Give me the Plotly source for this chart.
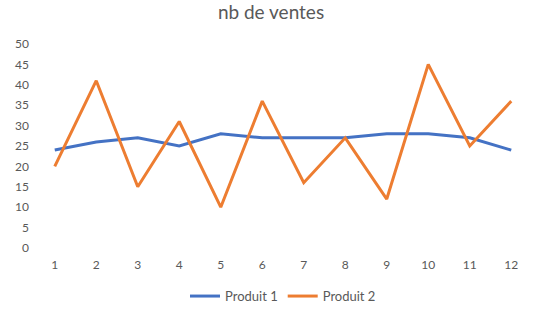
import plotly.graph_objects as go

months = [1, 2, 3, 4, 5, 6, 7, 8, 9, 10, 11, 12]
produit1 = [24, 26, 27, 25, 28, 27, 27, 27, 28, 28, 27, 24]
produit2 = [20, 41, 15, 31, 10, 36, 16, 27, 12, 45, 25, 36]
y_ticks = [0, 5, 10, 15, 20, 25, 30, 35, 40, 45, 50]

fig = go.Figure()
fig.add_trace(go.Scatter(x=months, y=produit1, mode="lines", name="Produit 1",
                         line=dict(color="#4472C4", width=3)))
fig.add_trace(go.Scatter(x=months, y=produit2, mode="lines", name="Produit 2",
                         line=dict(color="#ED7D31", width=3)))

fig.update_layout(
    width=542, height=314,
    margin=dict(l=34, r=10, t=44, b=66, autoexpand=False),
    paper_bgcolor="white", plot_bgcolor="white",
    font=dict(family="Lato, Open Sans, sans-serif", size=12, color="#595959"),
    title=dict(text="nb de ventes", x=0.5, xanchor="center", y=0.96, yanchor="middle",
               font=dict(size=19, color="#595959")),
    showlegend=True,
    legend=dict(orientation="h", x=0.5, xanchor="center", yref="container",
                y=0.057, yanchor="middle", font=dict(size=13, color="#595959")),
    xaxis=dict(range=[0.5, 12.5], tickmode="array", tickvals=months,
               ticktext=[str(m) for m in months], showgrid=False, zeroline=False,
               showline=False, ticks="", ticklabelstandoff=8),
    yaxis=dict(range=[0, 50], tickmode="array", tickvals=y_ticks, showgrid=False,
               zeroline=False, showline=False, ticks="", ticklabelstandoff=4),
)

fig.write_html("out.html")
